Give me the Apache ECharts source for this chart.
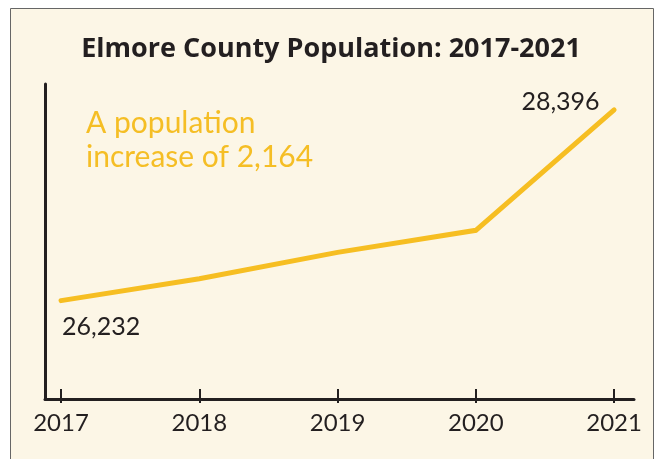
<!DOCTYPE html>
<html>
<head>
<meta charset="utf-8">
<script src="https://cdn.jsdelivr.net/npm/echarts@6/dist/echarts.min.js"></script>
<style>
html,body{margin:0;padding:0;background:#ffffff;}
#chart{width:662px;height:459px;}
</style>
</head>
<body>
<div id="chart"></div>
<script>
const years = [2017, 2018, 2019, 2020, 2021];
const population = [26232, 26480, 26780, 27030, 28396];
const tickLabels = ['2017', '2018', '2019', '2020', '2021'];
const titleText = 'Elmore County Population: 2017-2021';
const noteText = 'A population\nincrease of 2,164';

const lineColor = '#f6be22';
const ink = '#231f20';

const chart = echarts.init(document.getElementById('chart'), null, {renderer: 'canvas'});
const seriesData = years.map((y, i) => {
  const d = {value: [y, population[i]]};
  if (i === 0) {
    d.label = {show: true, position: 'bottom', offset: [40, 8]};
  } else if (i === years.length - 1) {
    d.label = {show: true, position: 'left', offset: [-9, -8]};
  }
  return d;
});

chart.setOption({
  animation: false,
  backgroundColor: '#ffffff',
  graphic: [
    {type: 'rect', z: -10, shape: {x: 10.5, y: 8.5, width: 643, height: 460},
     style: {fill: '#fcf6e6', stroke: '#666666', lineWidth: 1}},
    {type: 'text', left: 86, top: 106, z: 10,
     style: {text: noteText, fill: '#f5be25', font: 'normal 30px Lato', lineHeight: 34}}
  ],
  title: {
    text: titleText, left: 'center', top: 31,
    textStyle: {fontFamily: 'Open Sans', fontWeight: 'bold', fontSize: 27, color: ink}
  },
  grid: {left: 45, right: 28, top: 84, bottom: 60, containLabel: false},
  xAxis: [{
    type: 'value', min: 2016.884, max: 2021.144,
    axisLine: {show: true, lineStyle: {color: ink, width: 3}},
    axisTick: {show: true, inside: true, length: 10, customValues: years, lineStyle: {color: ink, width: 2}},
    axisLabel: {show: true, customValues: years, formatter: v => tickLabels[years.indexOf(v)],
      fontFamily: 'Lato', fontSize: 24, color: ink, margin: 12},
    splitLine: {show: false}
  }, {
    type: 'value', min: 2016.884, max: 2021.144, position: 'bottom', offset: 0,
    axisLine: {show: false},
    axisTick: {show: true, inside: false, length: 4, customValues: years, lineStyle: {color: ink, width: 2}},
    axisLabel: {show: false},
    splitLine: {show: false}
  }],
  yAxis: {
    type: 'value', min: 25116, max: 28690,
    axisLine: {show: true, lineStyle: {color: ink, width: 3}},
    axisTick: {show: false}, axisLabel: {show: false}, splitLine: {show: false}
  },
  series: [{
    type: 'line', data: seriesData, xAxisIndex: 0,
    symbol: 'circle', symbolSize: 1, showSymbol: true,
    itemStyle: {color: lineColor},
    lineStyle: {color: lineColor, width: 5, cap: 'round', join: 'miter'},
    label: {show: false, formatter: p => p.value[1].toLocaleString('en-US'),
      fontFamily: 'Lato', fontSize: 25, color: ink}
  }]
});
</script>
</body>
</html>
